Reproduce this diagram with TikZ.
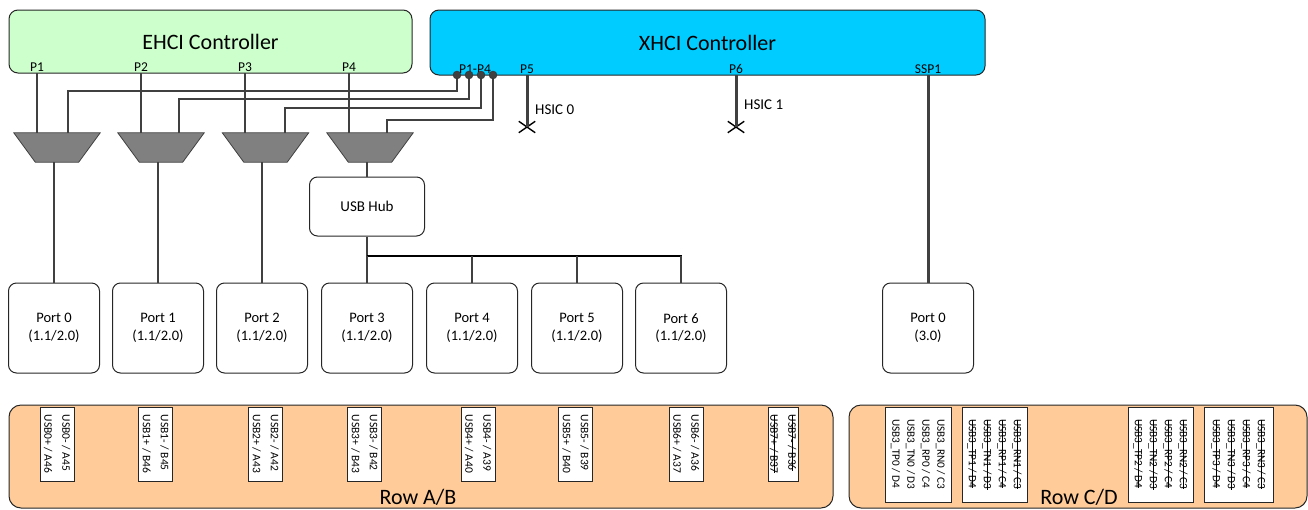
\documentclass[tikz,border=0pt]{standalone}
\usepackage{fontspec}
\setmainfont{Carlito}
\usetikzlibrary{positioning,shapes.geometric,shapes.misc}
\definecolor{ehcigreen}{HTML}{CCFFCC}
\definecolor{xhciblue}{HTML}{00CCFF}
\definecolor{rowpeach}{HTML}{FFCC99}
\definecolor{wire}{HTML}{404040}
\definecolor{muxgray}{HTML}{808080}
% struck-out pin text
\newcommand{\strk}[1]{\leavevmode\setbox0\hbox{#1}%
  \rlap{\raisebox{0.3em}{\rule{\wd0}{0.8pt}}}\box0}

\begin{document}
\begin{tikzpicture}[x=1pt, y=-1pt,
  ctrl/.style={rectangle, draw=black!85, line width=1pt, rounded corners=9pt,
    inner sep=0pt, font=\fontsize{22}{26}\selectfont},
  plabel/.style={anchor=south, inner sep=1.5pt,
    font=\fontsize{13.5}{16}\selectfont},
  port/.style={rectangle, draw=black!85, line width=1pt, rounded corners=8pt,
    minimum width=91pt, minimum height=90pt, align=center,
    font=\fontsize{14.5}{17.5}\selectfont},
  muxframe/.style={rectangle, inner sep=0pt, minimum width=86pt,
    minimum height=29pt},
  muxbody/.style={draw=wire, fill=muxgray, line width=0.8pt},
  dot/.style={circle, fill=wire, draw=black!80, inner sep=0pt,
    minimum size=8pt},
  xmark/.style={cross out, draw=black, line width=1.4pt, inner sep=0pt,
    minimum width=15pt, minimum height=10pt},
  pinrow/.style={rectangle, draw=black!85, line width=1pt,
    rounded corners=12pt, fill=rowpeach, inner sep=0pt},
  pinbox/.style={rectangle, draw=black!85, fill=white, line width=0.8pt,
    rotate=-90, inner xsep=2pt, inner ysep=0pt, align=left,
    minimum width=74pt, minimum height=34pt,
    font=\fontsize{11.5}{18}\selectfont},
  ssbox/.style={pinbox, minimum width=95pt, minimum height=65pt,
    font=\fontsize{11.2}{15}\selectfont},
  wireline/.style={draw=wire, line width=1.3pt},
  thickwire/.style={draw=wire, line width=3pt},
  bus/.style={draw=black, line width=1.6pt},
]
  \useasboundingbox (0,0) rectangle (1308,509);

  % host controllers
  \node[ctrl, fill=ehcigreen, minimum width=403pt, minimum height=63pt]
    (ehci) at (210.5,41.5) {EHCI Controller};
  \node[ctrl, fill=xhciblue, minimum width=555pt, minimum height=65pt,
    text depth=0pt] (xhci) at (707.5,42.5) {XHCI Controller};

  \node[plabel] (p1) at (37,73) {P1};
  \node[plabel] (p2) at (141,73) {P2};
  \node[plabel] (p3) at (245,73) {P3};
  \node[plabel] (p4) at (349,73) {P4};
  \node[plabel] (pp) at (475,75) {P1-P4};
  \node[plabel] (p5) at (527,75) {P5};
  \node[plabel] (p6) at (736,75) {P6};
  \node[plabel] (ssp) at (928,75) {SSP1};

  % muxes, hub and ports
  \node[muxframe] (mux1) at (57,147.5) {};
  \node[muxframe] (mux2) at (161,147.5) {};
  \node[muxframe] (mux3) at (265.5,147.5) {};
  \node[muxframe] (mux4) at (370,147.5) {};
  \foreach \m in {mux1,mux2,mux3,mux4}
    \draw[muxbody] (\m.north west) -- (\m.north east)
      -- ([xshift=-21.5pt]\m.south east) -- ([xshift=21.5pt]\m.south west)
      -- cycle;
  \node[rectangle, draw=black!85, line width=1pt, rounded corners=8pt,
    minimum width=115pt, minimum height=59pt,
    font=\fontsize{15}{17}\selectfont] (hub) at (367,206.5) {USB Hub};

  \node[port] (port0) at (54,328) {Port 0\\(1.1/2.0)};
  \node[port] (port1) at (158,328) {Port 1\\(1.1/2.0)};
  \node[port] (port2) at (262,328) {Port 2\\(1.1/2.0)};
  \node[port] (port3) at (367,328) {Port 3\\(1.1/2.0)};
  \node[port] (port4) at (472,328) {Port 4\\(1.1/2.0)};
  \node[port] (port5) at (577,328) {Port 5\\(1.1/2.0)};
  \node[port] (port6) at (681,328) {Port 6\\(1.1/2.0)};
  \node[port] (port30) at (928,328) {Port 0\\(3.0)};

  % EHCI ports into the muxes
  \draw[wireline] (p1.south) -- (p1.south |- mux1.north);
  \draw[wireline] (p2.south) -- (p2.south |- mux2.north);
  \draw[wireline] (p3.south) -- (p3.south |- mux3.north);
  \draw[wireline] (p4.south) -- (p4.south |- mux4.north);

  % XHCI P1-P4 into the muxes
  \coordinate (d1) at (457,75);
  \coordinate (d2) at (469,75);
  \coordinate (d3) at (481,75);
  \coordinate (d4) at (493,75);
  \coordinate (in1) at (68,91);
  \coordinate (in2) at (179,99);
  \coordinate (in3) at (285,108);
  \coordinate (in4) at (387,120);
  \draw[wireline] (d1) |- (in1) -- (in1 |- mux1.north);
  \draw[wireline] (d2) |- (in2) -- (in2 |- mux2.north);
  \draw[wireline] (d3) |- (in3) -- (in3 |- mux3.north);
  \draw[wireline] (d4) |- (in4) -- (in4 |- mux4.north);
  \node[dot] (dot1) at (d1) {};
  \node[dot] (dot2) at (d2) {};
  \node[dot] (dot3) at (d3) {};
  \node[dot] (dot4) at (d4) {};

  % mux outputs
  \draw[wireline] (port0.north |- mux1.south) -- (port0.north);
  \draw[wireline] (port1.north |- mux2.south) -- (port1.north);
  \draw[wireline] (port2.north |- mux3.south) -- (port2.north);
  \draw[wireline] (hub.north |- mux4.south) -- (hub.north);

  % hub fan-out
  \coordinate (busl) at (367,256);
  \coordinate (busr) at (682,256);
  \draw[wireline] (hub.south) -- (busl);
  \draw[bus] (busl) -- (busr);
  \draw[wireline] (busl) -- (port3.north);
  \draw[wireline] (port4.north |- busl) -- (port4.north);
  \draw[wireline] (port5.north |- busl) -- (port5.north);
  \draw[wireline] (port6.north |- busl) -- (port6.north);

  % HSIC and SuperSpeed
  \node[xmark] (x5) at (527,127) {};
  \node[xmark] (x6) at (736,127) {};
  \draw[thickwire] (p5.south) -- (x5.center);
  \draw[thickwire] (p6.south) -- (x6.center);
  \node[anchor=west, inner sep=0pt, font=\fontsize{15}{17}\selectfont]
    (hsic0) at (535,110) {HSIC 0};
  \node[anchor=west, inner sep=0pt, font=\fontsize{15}{17}\selectfont]
    (hsic1) at (744,105) {HSIC 1};
  \draw[thickwire] (ssp.south) -- (port30.north);

  % connector rows
  \node[pinrow, minimum width=824pt, minimum height=103pt]
    (rowab) at (421,456.5) {};
  \node[pinrow, minimum width=458pt, minimum height=103pt]
    (rowcd) at (1078,456.5) {};
  \node[font=\fontsize{22}{26}\selectfont, inner sep=0pt]
    (rowablbl) at (418,497) {Row A/B};
  \node[font=\fontsize{22}{26}\selectfont, inner sep=0pt]
    (rowcdlbl) at (1079,497) {Row C/D};

  \node[pinbox] (pin0) at (57,444) {USB0- / A45\\USB0+ / A46};
  \node[pinbox] (pin1) at (155.5,444) {USB1- / B45\\USB1+ / B46};
  \node[pinbox] (pin2) at (265.5,444) {USB2- / A42\\USB2+ / A43};
  \node[pinbox] (pin3) at (364.5,444) {USB3- / B42\\USB3+ / B43};
  \node[pinbox] (pin4) at (478,444) {USB4- / A39\\USB4+ / A40};
  \node[pinbox] (pin5) at (575.5,444) {USB5- / B39\\USB5+ / B40};
  \node[pinbox] (pin6) at (686,444) {USB6- / A36\\USB6+ / A37};
  \node[pinbox, minimum height=30pt]
    (pin7) at (783,444) {\strk{USB7- / B36}\\\strk{USB7+ / B37}};

  \node[ssbox, minimum height=66pt] (ss0) at (918,454.5)
    {USB3\_RN0 / C3\\USB3\_RP0 / C4\\USB3\_TN0 / D3\\USB3\_TP0 / D4};
  \node[ssbox] (ss1) at (994.5,454.5)
    {\strk{USB3\_RN1 / C3}\\\strk{USB3\_RP1 / C4}\\\strk{USB3\_TN1 / D3}\\\strk{USB3\_TP1 / D4}};
  \node[ssbox] (ss2) at (1160.5,454.5)
    {\strk{USB3\_RN2 / C3}\\\strk{USB3\_RP2 / C4}\\\strk{USB3\_TN2 / D3}\\\strk{USB3\_TP2 / D4}};
  \node[ssbox, minimum height=69pt] (ss3) at (1238.5,454.5)
    {\strk{USB3\_RN3 / C3}\\\strk{USB3\_RP3 / C4}\\\strk{USB3\_TN3 / D3}\\\strk{USB3\_TP3 / D4}};
\end{tikzpicture}
\end{document}
